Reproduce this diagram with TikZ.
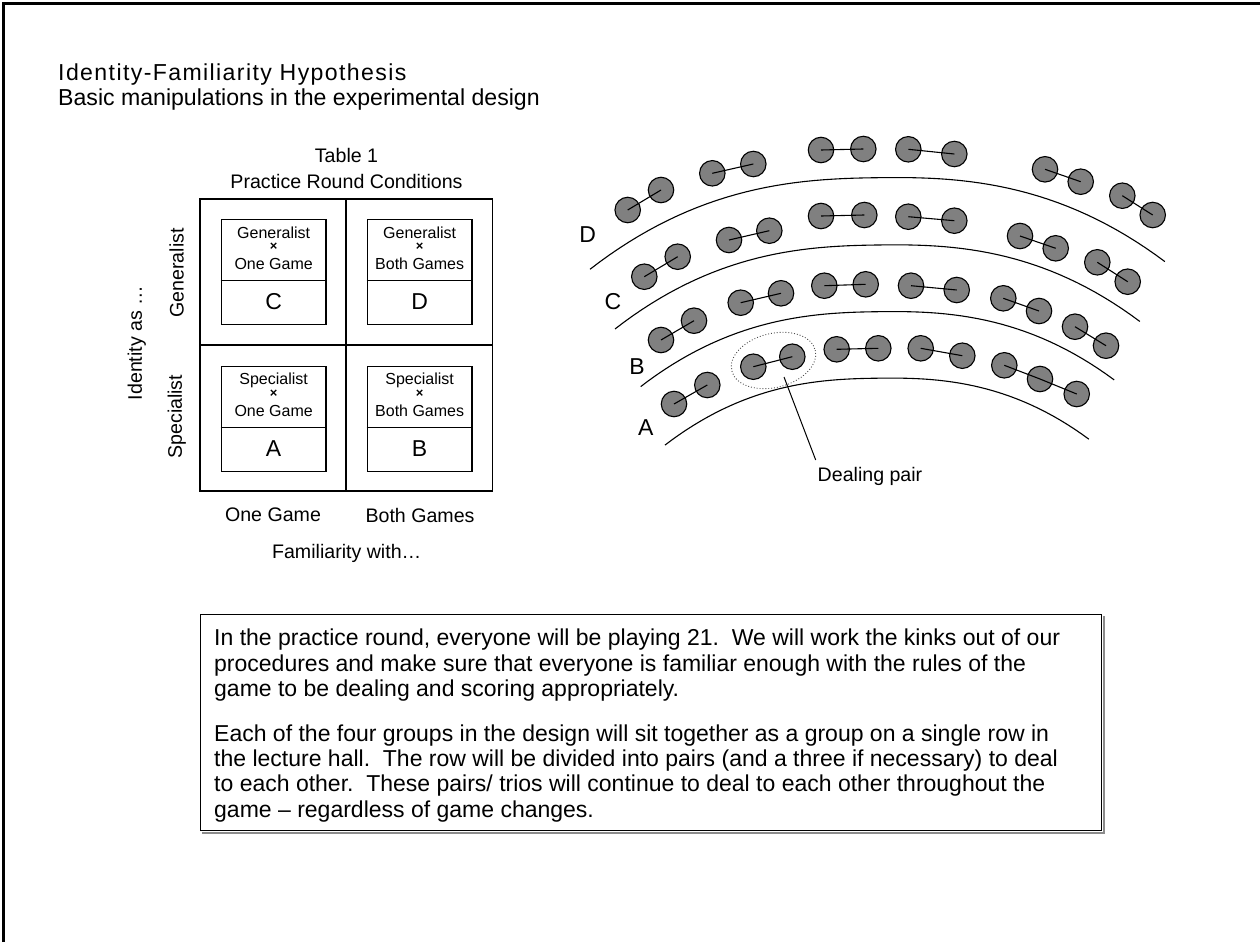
\documentclass[tikz,border=0pt]{standalone}
\usepackage{fontspec}
\setmainfont{Liberation Sans}
\usetikzlibrary{calc}
\definecolor{seatgray}{HTML}{808080}
\begin{document}
\begin{tikzpicture}[x=1pt,y=-1pt,
  seat/.style={circle,draw=black,fill=seatgray,line width=1.1pt,minimum size=25.5pt,inner sep=0pt},
  tie/.style={line width=1.1pt},
  rowline/.style={line width=1.1pt},
  lbl/.style={inner sep=0pt,font=\fontsize{19.6}{22}\selectfont},
  big/.style={inner sep=0pt,font=\fontsize{23}{26}\selectfont},
  small/.style={inner sep=0pt,font=\fontsize{16}{18}\selectfont},
  gridline/.style={line width=1.4pt},
  cellbox/.style={draw,line width=1.4pt,minimum width=104.5pt,minimum height=105pt,inner sep=0pt,anchor=north west}]
\useasboundingbox (0,0) rectangle (1260,942);
\fill[white] (0,0) rectangle (1260,942);
\draw[line width=2.2pt] (3.5,942) -- (3.5,3.5) -- (1260,3.5);

% titles
\node[anchor=base west,inner sep=0pt,font=\fontsize{23.1}{26}\selectfont\addfontfeature{LetterSpace=6}] (title) at (58,80) {Identity-Familiarity Hypothesis};
\node[anchor=base west,inner sep=0pt,font=\fontsize{23.1}{26}\selectfont] (subtitle) at (58,105.5) {Basic manipulations in the experimental design};

% table
\node[lbl] (tab1) at (346.5,155) {Table 1};
\node[lbl] (tab2) at (346.5,181.7) {Practice Round Conditions};
\draw[gridline] (200,199) rectangle (492.5,491);
\draw[gridline] (346,199) -- (346,491);
\draw[gridline] (200,345) -- (492.5,345);

\newcommand{\cellitem}[6]{%
  \node[cellbox] (#1) at (#2) {};
  \draw[gridline] ([yshift=-61.7pt]#1.north west) -- ([yshift=-61.7pt]#1.north east);
  \node[small] at ([yshift=-14pt]#1.north) {#3};
  \node[small,font=\fontsize{13}{14}\selectfont\bfseries] at ([yshift=-28pt]#1.north) {×};
  \node[small] at ([yshift=-45pt]#1.north) {#4};
  \node[big] at ([yshift=-83pt]#1.north) {#5};
}
\cellitem{cellC}{220.7,219}{Generalist}{One Game}{C}{}
\cellitem{cellD}{366.7,219}{Generalist}{Both Games}{D}{}
\cellitem{cellA}{220.7,366}{Specialist}{One Game}{A}{}
\cellitem{cellB}{366.7,366}{Specialist}{Both Games}{B}{}

\node[lbl,rotate=90] (gen) at (176.7,273) {Generalist};
\node[lbl,rotate=90] (spec) at (176.7,416.7) {Specialist};
\node[lbl,rotate=90] (ident) at (136.7,343) {Identity as …};
\node[lbl] (onegame) at (273,515) {One Game};
\node[lbl] (bothgames) at (420,515) {Both Games};
\node[lbl] (famil) at (346.7,553) {Familiarity with…};

% rows (arcs)
\draw[rowline] plot[domain=-1:1,samples=60] ({877.5+287.5*\x},{177.7+87.8*abs(\x)^2.5-3.8*\x});
\draw[rowline] plot[domain=-1:1,samples=60] ({877.5+262.5*\x},{245+80.3*abs(\x)^2.5-3.7*\x});
\draw[rowline] plot[domain=-1:1,samples=60] ({877.5+236.8*\x},{311.7+71.6*abs(\x)^2.5-3.3*\x});
\draw[rowline] plot[domain=-1:1,samples=60] ({877+212*\x},{378.2+64*abs(\x)^2.5-2.9*\x});

\node[big] (labD) at (587.7,235) {D};
\node[big] (labC) at (613,301.7) {C};
\node[big] (labB) at (637,367) {B};
\node[big] (labA) at (645.7,427.3) {A};

\newcommand{\seatpair}[4]{%
  \node[seat] (#1a) at (#2) {};
  \node[seat] (#1b) at (#3) {};
  \draw[tie] (#1a.center) -- (#1b.center);
}
% D row
\seatpair{d1}{627.7,210}{661,190}{}
\seatpair{d2}{712.3,173.3}{753.3,164}{}
\seatpair{d3}{821,150}{863.3,149}{}
\seatpair{d4}{908.3,149.3}{954.3,154}{}
\seatpair{d5}{1045,169.3}{1080.7,181.7}{}
\seatpair{d6}{1122.3,195.7}{1152.7,215}{}
% C row
\seatpair{c1}{644.3,276.7}{677.7,256.7}{}
\seatpair{c2}{729,240}{769.3,230.7}{}
\seatpair{c3}{821,216}{864.3,215}{}
\seatpair{c4}{908.3,216.7}{954.3,220.7}{}
\seatpair{c5}{1020,236}{1055.7,248.3}{}
\seatpair{c6}{1097.3,262.3}{1127.7,281.7}{}
% B row
\seatpair{b1}{661,340}{694,320.7}{}
\seatpair{b2}{740.7,302.7}{781,293.3}{}
\seatpair{b3}{824.3,285.7}{865.7,284.3}{}
\seatpair{b4}{911,285.7}{956.7,290}{}
\seatpair{b5}{1003.3,298.3}{1039,311}{}
\seatpair{b6}{1075,326.7}{1106,345.7}{}
% A row
\seatpair{a1}{674,404}{707.3,385}{}
\seatpair{a2}{753.3,366.7}{792.3,356.7}{}
\seatpair{a3}{836.7,349.3}{878.3,348.3}{}
\seatpair{a4}{920.7,348.3}{962.3,355.7}{}
\node[seat] (a5a) at (1004.3,365.3) {};
\node[seat] (a5b) at (1040,379) {};
\node[seat] (a5c) at (1076.7,394) {};
\draw[tie] (a5a.center) -- (a5b.center) -- (a5c.center);

% dealing pair
\coordinate (dpc) at (773.5,360.5);
\draw[dotted,line width=0.9pt,black!70,rotate around={14:(dpc)}] (dpc) ellipse [x radius=43, y radius=27];
\node[lbl] (dealing) at (870,476) {Dealing pair};
\coordinate (leadstart) at (784,377);
\coordinate (leadend) at (815.7,460);
\draw[line width=1pt] (leadstart) -- (leadend);

% text box
\node[draw,line width=1.1pt,anchor=north west,minimum width=901pt,minimum height=216pt,inner sep=0pt] (box) at (200,614) {};
\draw[black!45,line width=1.4pt] ($(box.south west)+(2,1.8)$) -- ($(box.south east)+(1.8,1.8)$) -- ($(box.north east)+(1.8,2)$);
\node[anchor=north west,inner sep=0pt,align=left,font=\fontsize{23}{25.4}\selectfont] (body) at (214,629) {%
In the practice round, everyone will be playing 21.\ \ We will work the kinks out of our\\
procedures and make sure that everyone is familiar enough with the rules of the\\
game to be dealing and scoring appropriately.\\[19pt]
Each of the four groups in the design will sit together as a group on a single row in\\
the lecture hall.\ \ The row will be divided into pairs (and a three if necessary) to deal\\
to each other.\ \ These pairs/ trios will continue to deal to each other throughout the\\
game – regardless of game changes.};
\end{tikzpicture}
\end{document}
